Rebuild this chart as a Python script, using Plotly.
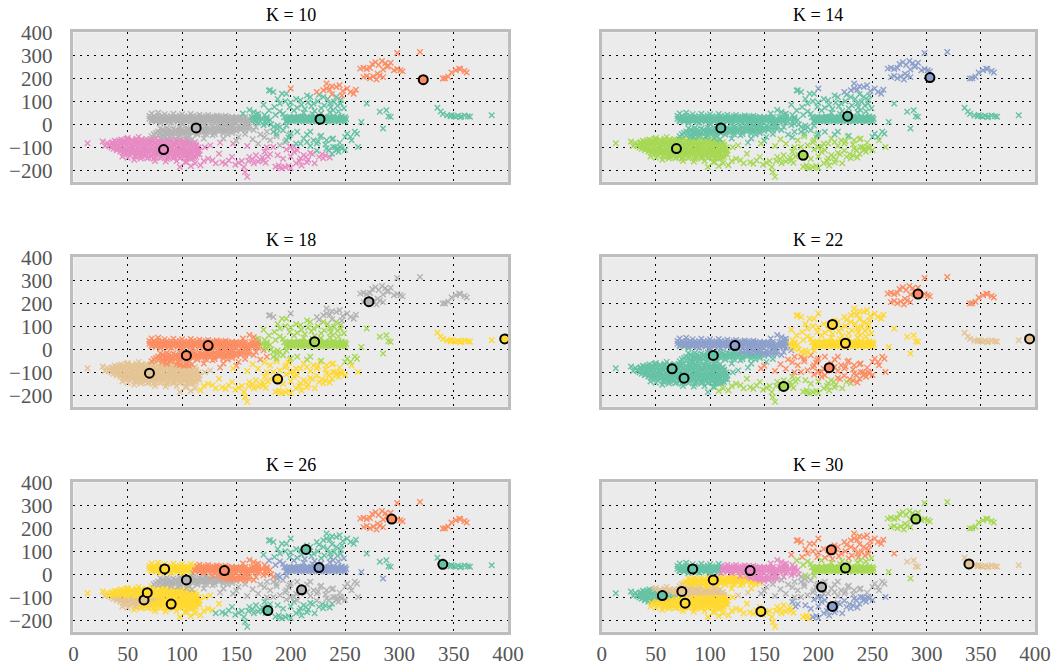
import numpy as np
import plotly.graph_objects as go

# Set2 palette used for the cluster colours
SET2 = {
    "teal": "#66c2a5", "orange": "#fc8d62", "blue": "#8da0cb", "pink": "#e78ac3",
    "green": "#a6d854", "yellow": "#ffd92f", "tan": "#e5c494", "gray": "#b3b3b3",
}

# ---- observations (x, y), grouped by region of the plane ----
lower_blob = [
    (13, -83), (27, -75), (31, -82), (34, -92), (29, -95), (38, -72), (40, -110),
    (60, -55), (72, -52), (85, -56), (96, -54), (50, -60), (104, -60),
    (44, -66), (49, -64), (54, -67), (58, -63), (63, -66), (67, -64), (72, -67), (76, -63),
    (81, -66), (86, -64), (90, -67), (95, -65), (99, -66), (104, -68), (109, -66),
    (36, -78), (40, -76), (44, -79), (48, -77), (52, -78), (56, -76), (60, -79), (64, -77),
    (68, -78), (72, -76), (76, -79), (80, -77), (84, -78), (88, -76), (92, -79), (96, -77),
    (100, -78), (104, -76), (108, -79), (112, -77),
    (33, -89), (37, -88), (41, -90), (45, -88), (49, -91), (53, -89), (57, -88), (61, -90),
    (65, -89), (69, -88), (73, -91), (77, -89), (81, -88), (85, -90), (89, -89), (93, -88),
    (97, -91), (101, -89), (105, -88), (109, -90), (113, -89),
    (35, -101), (39, -100), (43, -102), (47, -100), (51, -103), (55, -101), (59, -100),
    (63, -102), (67, -101), (71, -100), (75, -103), (79, -101), (83, -100), (87, -102),
    (91, -101), (95, -100), (99, -103), (103, -101), (107, -100), (111, -102), (115, -101),
    (40, -113), (44, -112), (48, -114), (52, -112), (56, -115), (60, -113), (64, -112),
    (68, -114), (72, -113), (76, -112), (80, -115), (84, -113), (88, -112), (92, -114),
    (96, -113), (100, -112), (104, -115), (108, -113), (112, -112), (116, -114),
    (46, -125), (50, -124), (54, -126), (58, -124), (62, -127), (66, -125), (70, -124),
    (74, -126), (78, -125), (82, -124), (86, -127), (90, -125), (94, -124), (98, -126),
    (102, -125), (106, -124), (110, -127), (114, -125),
    (52, -137), (57, -136), (62, -138), (67, -136), (72, -139), (77, -137), (82, -136),
    (87, -138), (92, -137), (97, -136), (102, -139), (107, -137), (112, -136),
    (62, -149), (68, -148), (74, -150), (80, -148), (86, -151), (92, -149), (98, -148),
    (104, -150), (110, -149),
    (50, -146), (56, -155), (75, -160), (85, -162), (95, -160), (103, -164), (45, -140),
]

lower_blob_fill = [
    (42, -71), (46, -72), (50, -70), (54, -72), (58, -71), (62, -70), (66, -72), (70, -71),
    (74, -70), (78, -72), (82, -71), (86, -70), (90, -72), (94, -71), (98, -70), (102, -72),
    (106, -71),
    (35, -83), (39, -84), (43, -82), (47, -84), (51, -83), (55, -82), (59, -84), (63, -83),
    (67, -82), (71, -84), (75, -83), (79, -82), (83, -84), (87, -83), (91, -82), (95, -84),
    (99, -83), (103, -82), (107, -84), (111, -83),
    (33, -95), (37, -94), (41, -96), (45, -95), (49, -94), (53, -96), (57, -95), (61, -94),
    (65, -96), (69, -95), (73, -94), (77, -96), (81, -95), (85, -94), (89, -96), (93, -95),
    (97, -94), (101, -96), (105, -95), (109, -94), (113, -96),
    (37, -107), (41, -106), (45, -108), (49, -107), (53, -106), (57, -108), (61, -107),
    (65, -106), (69, -108), (73, -107), (77, -106), (81, -108), (85, -107), (89, -106),
    (93, -108), (97, -107), (101, -106), (105, -108), (109, -107), (113, -106),
    (43, -119), (47, -118), (51, -120), (55, -119), (59, -118), (63, -120), (67, -119),
    (71, -118), (75, -120), (79, -119), (83, -118), (87, -120), (91, -119), (95, -118),
    (99, -120), (103, -119), (107, -118), (111, -120), (115, -119),
    (49, -131), (54, -130), (59, -132), (64, -131), (69, -130), (74, -132), (79, -131),
    (84, -130), (89, -132), (94, -131), (99, -130), (104, -132), (109, -131), (114, -130),
    (57, -143), (63, -142), (69, -144), (75, -143), (81, -142), (87, -144), (93, -143),
    (99, -142), (105, -144), (111, -143),
]

upper_streak = [
    (72, 47), (78, 50), (84, 44), (92, 46), (100, 43), (108, 45), (116, 41), (124, 40),
    (132, 38), (140, 37),
    (70, 36), (74, 34), (78, 37), (82, 35), (86, 33), (90, 36), (94, 34), (98, 37), (102, 35),
    (106, 33), (110, 36), (114, 34), (118, 32), (122, 35), (126, 33), (130, 31), (134, 34),
    (138, 32), (142, 30), (146, 33), (150, 31), (154, 29), (158, 32), (164, 30), (170, 33),
    (70, 24), (74, 22), (78, 25), (82, 23), (86, 21), (90, 24), (94, 22), (98, 25), (102, 23),
    (106, 21), (110, 24), (114, 22), (118, 20), (122, 23), (126, 21), (130, 24), (134, 22),
    (138, 20), (142, 23), (146, 21), (150, 24), (154, 22), (158, 20), (162, 23), (166, 21),
    (170, 24), (174, 22),
    (72, 13), (76, 11), (80, 14), (84, 12), (88, 10), (92, 13), (96, 11), (100, 14), (104, 12),
    (108, 10), (112, 13), (116, 11), (120, 14), (124, 12), (128, 10), (132, 13), (136, 11),
    (140, 14), (144, 12), (148, 10), (152, 13), (156, 11), (160, 14), (164, 12), (168, 10),
    (172, 13), (176, 11),
    (80, 4), (90, 6), (100, 3), (110, 5), (120, 4), (130, 6), (140, 3), (150, 5), (160, 4),
    (170, 6), (178, 2), (178, 30), (181, 18), (168, 42), (156, 47), (176, 40), (162, 62),
]

upper_streak_fill = [
    (72, 17), (76, 18), (80, 16), (84, 18), (88, 17), (92, 16), (96, 18), (100, 17),
    (104, 16), (108, 18), (112, 17), (116, 16), (120, 18), (124, 17), (128, 16), (132, 18),
    (136, 17), (140, 16), (144, 18), (148, 17), (152, 16), (156, 18), (160, 17), (164, 16),
    (168, 18),
    (72, 29), (76, 30), (80, 28), (84, 30), (88, 29), (92, 28), (96, 30), (100, 29),
    (104, 28), (108, 30), (112, 29), (116, 28), (120, 30), (124, 29), (128, 28), (132, 30),
    (136, 29), (140, 28), (148, 27), (156, 26),
]

lower_streak = [
    (74, -44), (78, -47), (82, -42), (86, -45), (90, -40), (94, -43), (98, -38), (102, -41),
    (106, -36), (110, -39), (114, -34), (118, -37), (122, -32), (126, -35), (130, -30),
    (134, -33), (138, -28), (142, -31), (146, -26), (150, -29), (154, -24), (158, -27),
    (162, -22), (166, -25),
    (78, -32), (82, -29), (86, -33), (90, -28), (94, -31), (98, -26), (102, -29), (106, -24),
    (110, -27), (114, -22), (118, -25), (122, -20), (126, -23), (130, -18), (134, -21),
    (138, -16), (142, -19), (146, -14), (150, -17), (154, -12), (158, -15), (162, -10),
    (168, -12),
    (80, -18), (86, -16), (92, -19), (98, -14), (104, -17), (110, -12), (116, -15), (122, -10),
    (128, -8), (134, -6), (140, -8), (146, -4), (152, -6), (158, -2),
    (82, -55), (90, -53), (98, -50), (106, -48), (114, -46), (122, -44), (130, -42),
    (138, -40), (146, -38),
]

lower_streak_fill = [
    (76, -38), (80, -36), (84, -38), (88, -35), (92, -36), (96, -33), (100, -34), (104, -31),
    (108, -32), (112, -29), (116, -30), (120, -27), (124, -28), (128, -25), (132, -26),
    (136, -23), (140, -24), (144, -21), (148, -22), (152, -19),
    (82, -23), (88, -22), (94, -24), (100, -21), (106, -20), (112, -18), (118, -19),
    (124, -15), (130, -13), (136, -11), (142, -12),
]

mid_sparse = [
    (120, -62), (128, -48), (138, -62), (147, -84), (152, -55), (158, -42), (165, -65),
    (172, -45), (176, -57), (181, -70), (184, -33), (190, -91), (150, -72), (135, -80),
    (126, -92), (170, -85), (187, -52), (195, -78), (142, -45), (160, -95), (178, -100),
    (198, -58), (205, -85), (212, -62), (218, -95), (225, -75), (232, -88), (238, -65),
    (245, -80), (250, -55), (256, -70), (215, -45), (228, -50), (200, -40), (188, -20),
    (196, -5),
]

bottom_spread = [
    (100, -120), (104, -135), (108, -125), (112, -108), (116, -132), (121, -100), (104, -164),
    (108, -150), (113, -142), (117, -178), (120, -160), (112, -170), (98, -186), (108, -182),
    (124, -150), (128, -157), (131, -170), (134, -128), (137, -165), (140, -172), (143, -158),
    (146, -142), (149, -176), (152, -168), (155, -160), (157, -186), (160, -229), (158, -208),
    (162, -142), (165, -152), (168, -135), (170, -162), (172, -155), (174, -145), (176, -120),
    (177, -168), (179, -140), (181, -130), (175, -158), (166, -170), (161, -160),
    (186, -185), (189, -180), (192, -192), (195, -186), (198, -182), (200, -190), (190, -188),
    (203, -120), (205, -170), (208, -160), (209, -148), (212, -135), (214, -142), (216, -155),
    (218, -125), (220, -130), (222, -170), (224, -115), (226, -142), (229, -130), (232, -136),
    (235, -112), (238, -128), (241, -100), (244, -120), (247, -106), (250, -112), (230, -148),
    (236, -145), (210, -180), (215, -165),
    (184, -99), (203, -99), (196, -110), (188, -135), (193, -150), (200, -140),
]

dense_band = [
    (196, 14), (199, 16), (202, 13), (205, 15), (208, 12), (211, 16), (214, 13), (217, 15),
    (220, 12), (223, 16), (226, 13), (229, 15), (232, 12), (235, 16), (238, 13), (241, 15),
    (244, 12), (247, 16), (250, 13),
    (197, 24), (200, 22), (203, 25), (206, 23), (209, 21), (212, 24), (215, 22), (218, 25),
    (221, 23), (224, 21), (227, 24), (230, 22), (233, 25), (236, 23), (239, 21), (242, 24),
    (245, 22), (248, 25), (251, 23),
    (199, 33), (203, 31), (207, 34), (211, 32), (215, 30), (219, 33), (223, 31), (227, 34),
    (231, 32), (235, 30), (239, 33), (243, 31), (247, 34), (250, 30),
]

dense_band_fill = [
    (198, 19), (201, 18), (204, 20), (207, 19), (210, 18), (213, 20), (216, 19), (219, 18),
    (222, 20), (225, 19), (228, 18), (231, 20), (234, 19), (237, 18), (240, 20), (243, 19),
    (246, 18), (249, 20),
    (198, 28), (201, 29), (204, 27), (207, 28), (210, 29), (213, 27), (216, 28), (219, 29),
    (222, 27), (225, 28), (228, 29), (231, 27), (234, 28), (237, 29), (240, 27), (243, 28),
    (246, 29), (249, 27),
]

central_cloud = [
    (166, 53), (170, 32), (184, 140), (196, 133), (190, 90), (199, 75), (193, 46), (178, 17),
    (184, -12), (193, -26), (199, -48), (206, -33), (209, 32), (209, 104), (218, 119),
    (221, 90), (224, 140), (230, 119), (233, 155), (236, 90), (239, 61), (242, 119), (246, 90),
    (218, -33), (221, -70), (227, -55), (233, -70), (215, -77), (209, -84), (224, -84),
    (239, -62), (246, -99), (243, -106), (252, -41), (203, 25), (196, 10), (190, -12),
    (206, -113), (181, 148), (192, 133), (178, 25), (170, 46), (166, 32), (175, -4),
    (178, -33), (187, -41), (196, -70), (200, -99), (233, -106), (239, -99), (242, -113),
    (255, -55), (259, -33), (261, -41), (262, -99),
    (203, 60), (206, 72), (210, 85), (213, 66), (216, 95), (219, 78), (222, 58), (225, 100),
    (228, 70), (231, 82), (234, 110), (237, 74), (240, 98), (243, 80), (246, 105), (249, 70),
    (212, 50), (220, 45), (228, 48), (236, 52), (244, 55), (205, 110), (215, 125), (226, 128),
    (238, 130), (247, 125), (200, 95), (195, 100), (188, 110), (185, 75), (180, 60), (175, 85),
    (190, 55), (186, 40), (194, 30), (182, 0), (188, -5),
]

cloud_top = [
    (200, 155), (233, 177), (230, 148), (236, 150), (242, 162), (252, 155), (255, 140),
    (258, 133), (245, 170), (238, 165), (248, 145), (260, 150), (180, 147),
]

upper_right = [
    (264, 242), (267, 246), (270, 240), (273, 245), (275, 262), (278, 270), (281, 258),
    (284, 275), (287, 265), (290, 255), (292, 268), (289, 250), (285, 238), (295, 235),
    (301, 235), (298, 240), (303, 230),
    (267, 205), (270, 210), (273, 200), (276, 208), (279, 195), (282, 212), (285, 205),
    (280, 220), (298, 310), (319, 314),
    (342, 200), (345, 207), (348, 225), (352, 235), (356, 240), (360, 232), (362, 225),
    (340, 199), (355, 242),
]

right_band = [
    (335, 72), (338, 55), (340, 45), (344, 38), (347, 35), (350, 36), (352, 32), (354, 37),
    (357, 34), (360, 38), (363, 35), (365, 33), (348, 40), (356, 30), (385, 39),
    (270, 90), (282, 54), (288, 61), (292, 32), (285, -19), (265, 10), (290, 35),
]

# ---- cluster centres for each run: (x, y, colour) ----
centres_k10 = [(83, -110, "pink"), (113, -16, "gray"), (227, 22, "teal"), (322, 194, "orange")]
centres_k14 = [(69, -106, "green"), (110, -16, "teal"), (186, -135, "green"),
               (227, 35, "teal"), (303, 203, "blue")]
centres_k18 = [(70, -104, "tan"), (104, -27, "orange"), (124, 16, "orange"),
               (188, -130, "yellow"), (222, 33, "green"), (272, 207, "gray"), (397, 45, "yellow")]
centres_k22 = [(65, -85, "teal"), (76, -126, "teal"), (103, -27, "teal"), (123, 16, "blue"),
               (168, -162, "green"), (210, -80, "orange"), (213, 108, "yellow"),
               (225, 26, "yellow"), (292, 240, "orange"), (395, 45, "tan")]
centres_k26 = [(65, -112, "tan"), (68, -80, "yellow"), (90, -130, "yellow"), (84, 23, "yellow"),
               (104, -25, "gray"), (139, 16, "orange"), (179, -158, "teal"), (210, -68, "gray"),
               (214, 108, "teal"), (226, 29, "blue"), (293, 240, "orange"), (340, 43, "teal")]
centres_k30 = [(56, -93, "teal"), (74, -75, "tan"), (77, -126, "yellow"), (84, 23, "teal"),
               (103, -25, "yellow"), (137, 16, "pink"), (147, -162, "yellow"), (203, -56, "gray"),
               (212, 106, "orange"), (213, -140, "blue"), (225, 27, "green"), (290, 240, "green"),
               (339, 45, "tan")]

panels = [("K = 10", centres_k10), ("K = 14", centres_k14), ("K = 18", centres_k18),
          ("K = 22", centres_k22), ("K = 26", centres_k26), ("K = 30", centres_k30)]

x_ticks = [0, 50, 100, 150, 200, 250, 300, 350, 400]
y_ticks = [-200, -100, 0, 100, 200, 300, 400]

points = (lower_blob + lower_blob_fill + upper_streak + upper_streak_fill + lower_streak
          + lower_streak_fill + mid_sparse + bottom_spread + dense_band + dense_band_fill
          + central_cloud + cloud_top + upper_right + right_band)
pts = np.array(points, dtype=float)

W, H = 1061, 668
x_domains = [(73.4 / W, 508 / W), (601.7 / W, 1035 / W)]
row_px = [(32.3, 181.7), (257.3, 406.7), (482.3, 631.7)]
y_domains = [(1 - b / H, 1 - t / H) for t, b in row_px]

FONT = "Liberation Serif"
fig = go.Figure()
layout = {}
annotations = []

for i, (title, centres) in enumerate(panels):
    r, c = divmod(i, 2)
    n = i + 1
    xa = "x" if n == 1 else f"x{n}"
    ya = "y" if n == 1 else f"y{n}"
    cen = np.array([(cx, cy) for cx, cy, _ in centres], dtype=float)
    cols = [SET2[col] for _, _, col in centres]
    # each observation takes the colour of its nearest centre
    d = ((pts[:, None, :] - cen[None, :, :]) ** 2).sum(axis=2)
    lab = d.argmin(axis=1)
    for k in range(len(centres)):
        sel = pts[lab == k]
        if len(sel) == 0:
            continue
        fig.add_trace(go.Scatter(
            x=sel[:, 0], y=sel[:, 1], mode="markers", xaxis=xa, yaxis=ya,
            marker=dict(symbol="x-thin", size=5.5, color=cols[k],
                        line=dict(color=cols[k], width=1.4)),
            showlegend=False, hoverinfo="skip"))
    fig.add_trace(go.Scatter(
        x=cen[:, 0], y=cen[:, 1], mode="markers", xaxis=xa, yaxis=ya,
        marker=dict(symbol="circle", size=9, color=cols,
                    line=dict(color="black", width=2)),
        showlegend=False, hoverinfo="skip"))

    common = dict(showgrid=True, gridcolor="black", griddash="2px,5px", gridwidth=1,
                  showline=True, mirror=True, linecolor="#bdbdbd", linewidth=2.5,
                  zeroline=False, ticks="", automargin=False,
                  tickfont=dict(family=FONT, size=21, color="#555555"))
    layout["xaxis" if n == 1 else f"xaxis{n}"] = dict(
        common, domain=x_domains[c], range=[0, 400], tickvals=x_ticks,
        showticklabels=(r == 2), anchor=ya, ticklabelstandoff=1)
    layout["yaxis" if n == 1 else f"yaxis{n}"] = dict(
        common, domain=y_domains[r], range=[-250, 400], tickvals=y_ticks,
        showticklabels=(c == 0), anchor=xa, ticklabelstandoff=14)
    annotations.append(dict(
        text=title, x=sum(x_domains[c]) / 2, y=y_domains[r][1], xref="paper", yref="paper",
        xanchor="center", yanchor="middle", yshift=17, showarrow=False,
        font=dict(family=FONT, size=18, color="black")))

fig.update_layout(
    **layout, annotations=annotations, width=W, height=H,
    margin=dict(l=0, r=0, t=0, b=0, autoexpand=False),
    paper_bgcolor="white", plot_bgcolor="#ebebeb",
)
fig.write_html("out.html")
